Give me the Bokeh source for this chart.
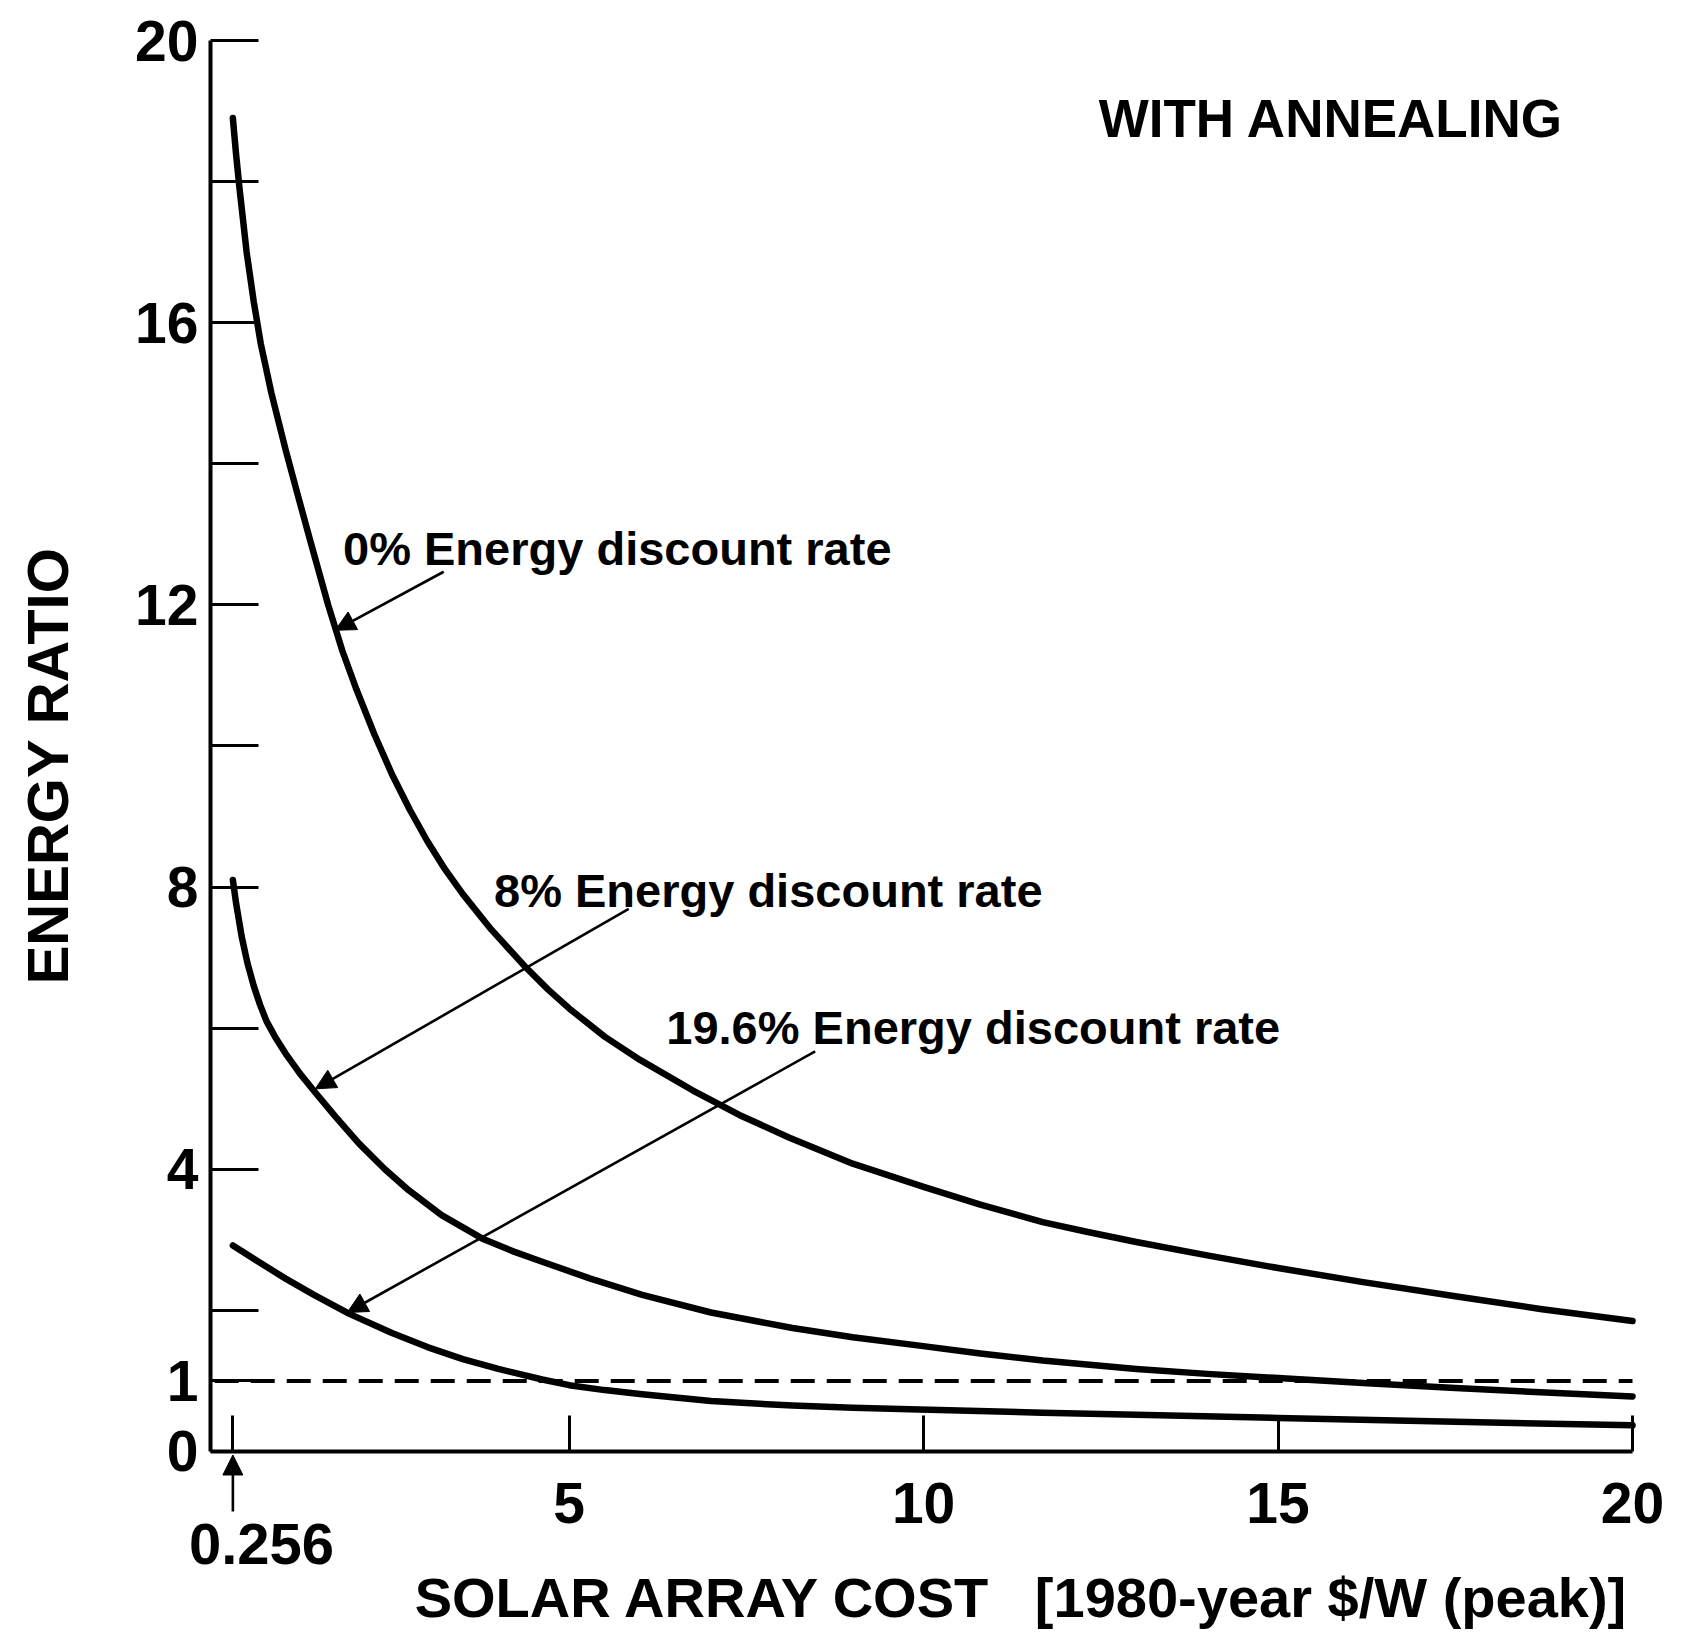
from math import pi
from bokeh.plotting import figure
from bokeh.models import Range1d, FixedTicker, Label, Arrow, NormalHead, LinearAxis
from bokeh.embed import file_html
from bokeh.resources import INLINE

# ---- data ----
cost_0pct = [0.256, 0.3, 0.35, 0.45, 0.55, 0.65, 0.8, 1.0, 1.16, 1.35, 1.6, 1.8, 2.0, 2.25, 2.5, 2.75,
             3.0, 3.25, 3.5, 3.9, 4.38, 4.7, 5.0, 5.5, 6.0, 6.74, 7.4, 8.1, 9.0, 10.0, 10.8, 11.68,
             12.3, 13.0, 14.0, 15.0, 16.2, 17.5, 18.7, 20.0]
ratio_0pct = [18.9, 18.4, 17.9, 17.0, 16.3, 15.7, 15.0, 14.2, 13.6, 12.9, 12.0, 11.35, 10.8, 10.17, 9.6, 9.1,
              8.65, 8.25, 7.9, 7.4, 6.87, 6.55, 6.28, 5.88, 5.55, 5.12, 4.77, 4.45, 4.08, 3.75, 3.5, 3.25,
              3.115, 2.97, 2.78, 2.6, 2.4, 2.2, 2.02, 1.85]

cost_8pct = [0.256, 0.3, 0.38, 0.46, 0.55, 0.64, 0.73, 0.85, 1.0, 1.2, 1.41, 1.7, 2.03, 2.4, 2.74, 3.2,
             3.77, 4.2, 4.62, 5.3, 6.03, 7.0, 8.15, 9.0, 9.94, 10.8, 11.68, 13.0, 14.0, 15.0, 16.2,
             17.5, 18.7, 20.0]
ratio_8pct = [8.1, 7.78, 7.3, 6.93, 6.6, 6.33, 6.1, 5.88, 5.64, 5.36, 5.1, 4.75, 4.37, 4.0, 3.7, 3.35,
              3.02, 2.84, 2.69, 2.45, 2.22, 1.97, 1.75, 1.62, 1.5, 1.39, 1.29, 1.17, 1.1, 1.04, 0.97,
              0.9, 0.84, 0.78]

cost_196pct = [0.256, 0.6, 1.0, 1.4, 1.9, 2.5, 3.0, 3.5, 4.0, 4.62, 5.0, 5.5, 6.03, 7.0, 8.15, 9.0,
               9.94, 11.68, 13.0, 15.0, 17.5, 20.0]
ratio_196pct = [2.92, 2.7, 2.45, 2.22, 1.95, 1.68, 1.48, 1.31, 1.17, 1.02, 0.94, 0.87, 0.81, 0.715, 0.65, 0.62,
                0.595, 0.55, 0.52, 0.475, 0.42, 0.37]

breakeven_ratio = 1.0
x_ticks = [0.256, 5, 10, 15, 20]
y_label_ticks = [0, 1, 4, 8, 12, 16, 20]
y_minor_ticks = [2, 6, 10, 14, 18]
min_cost = 0.256
x_axis_start, x_axis_end = -0.06, 20.0
y_axis_start, y_axis_end = 0.0, 20.0

FONT = "Liberation Sans"

p = figure(width=1670, height=1632,
           x_range=Range1d(-3.022, 20.536), y_range=Range1d(-2.566, 20.567),
           x_axis_location=None, y_axis_location=None,
           output_backend="svg", toolbar_location=None,
           min_border=0)
p.xgrid.visible = False
p.ygrid.visible = False
p.outline_line_color = None
p.background_fill_color = "white"
p.border_fill_color = "white"

# axes (placed at fixed data locations so the whole canvas is the frame)
xa = LinearAxis(fixed_location=y_axis_start, bounds=(x_axis_start, x_axis_end))
xa.ticker = FixedTicker(ticks=x_ticks)
xa.major_label_overrides = {0.256: ""}
xa.major_tick_in = 36
xa.major_tick_out = 0
xa.minor_tick_line_color = None
xa.axis_line_width = 4
xa.major_tick_line_width = 3
xa.major_label_standoff = 32
xa.major_label_text_font = FONT
xa.major_label_text_font_style = "bold"
xa.major_label_text_font_size = "57px"
xa.major_label_text_color = "black"
p.add_layout(xa, "below")

ya = LinearAxis(fixed_location=x_axis_start, bounds=(y_axis_start, y_axis_end))
ya.ticker = FixedTicker(ticks=y_label_ticks, minor_ticks=y_minor_ticks)
ya.major_tick_in = 48
ya.major_tick_out = 0
ya.minor_tick_in = 48
ya.minor_tick_out = 0
ya.axis_line_width = 4
ya.major_tick_line_width = 3
ya.minor_tick_line_width = 3
ya.minor_tick_line_color = "black"
ya.major_label_standoff = 12
ya.major_label_text_font = FONT
ya.major_label_text_font_style = "bold"
ya.major_label_text_font_size = "57px"
ya.major_label_text_color = "black"
p.add_layout(ya, "left")

# break-even dashed line
p.line([x_axis_start + 0.06, x_axis_end], [breakeven_ratio, breakeven_ratio], line_color="black",
       line_width=4, line_dash="24 12")

# curves
for xs, ys in [(cost_0pct, ratio_0pct), (cost_8pct, ratio_8pct), (cost_196pct, ratio_196pct)]:
    p.line(xs, ys, line_color="black", line_width=6.5, line_cap="round", line_join="round")

# leader arrows
def leader(x0, y0, x1, y1):
    p.add_layout(Arrow(end=NormalHead(size=20, fill_color="black", line_color="black"),
                       x_start=x0, y_start=y0, x_end=x1, y_end=y1,
                       line_color="black", line_width=2.6))

leader(3.23, 12.47, 1.70, 11.64)
leader(5.84, 7.69, 1.42, 5.14)
leader(8.47, 5.67, 1.87, 1.97)
# 0.256 marker arrow below the axis
leader(min_cost, -0.85, min_cost, -0.05)

def label(x, y, text, size, style="bold", align="left", angle=0.0):
    p.add_layout(Label(x=x, y=y, text=text, text_font=FONT, text_font_style=style,
                       text_font_size=size, text_color="black", text_align=align,
                       text_baseline="middle", angle=angle))

label(1.81, 12.80, "0% Energy discount rate", "47px")
label(3.94, 7.95, "8% Energy discount rate", "47px")
label(6.37, 6.01, "19.6% Energy discount rate", "47px")
label(12.47, 18.90, "WITH ANNEALING", "53px")
label(0.66, -1.31, "0.256", "58px", align="center")
label(2.82, -2.07, "SOLAR ARRAY COST\u00a0\u00a0\u00a0[1980-year $/W (peak)]", "56px")
label(-2.36, 9.72, "ENERGY RATIO", "58px", align="center", angle=pi / 2)

open("out.html", "w").write(file_html(p, INLINE))
